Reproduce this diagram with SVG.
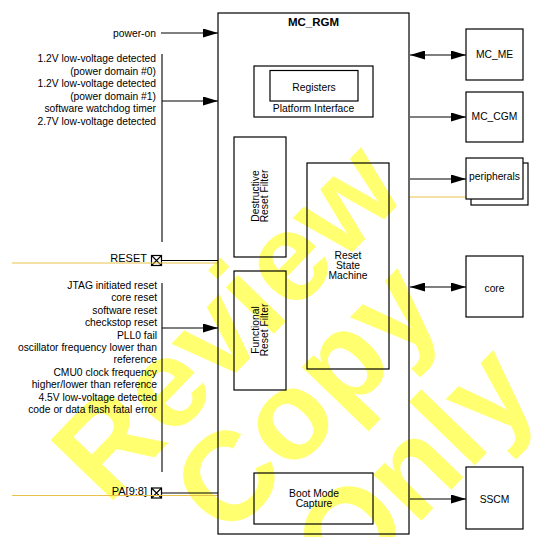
<svg xmlns="http://www.w3.org/2000/svg" width="550" height="537" viewBox="0 0 550 537">
<style>
  .t { font-family: "Liberation Sans", Arial, sans-serif; font-size: 10.3px; fill: #000; }
  .r { text-anchor: end; }
  .m { text-anchor: middle; }
  .b { font-weight: bold; font-size: 11.5px; }
  .pin { font-size: 11px; }
  .box { fill: none; stroke: #000; stroke-width: 1.2; }
  .wbox { fill: #fff; stroke: #000; stroke-width: 1.2; }
  .ln { fill: none; stroke: #000; stroke-width: 1.1; }
  .ar { fill: none; stroke: #000; stroke-width: 1.1; marker-end: url(#ah); }
  .ar2 { fill: none; stroke: #000; stroke-width: 1.1; marker-end: url(#ah); marker-start: url(#ah); }
  .yl { fill: none; stroke: #e8c34a; stroke-width: 1; }
  .wm { font-family: "Liberation Sans", Arial, sans-serif; font-weight: bold; font-size: 126px; fill: #ffff70; text-anchor: middle; }
</style>
<defs>
  <marker id="ah" markerUnits="userSpaceOnUse" markerWidth="15" markerHeight="9" refX="15" refY="4.5" orient="auto-start-reverse">
    <path d="M0,0 L15,4.5 L0,9 z" fill="#000"/>
  </marker>
</defs>
<rect width="550" height="537" fill="#fff"/>

<g id="watermark" transform="translate(258,350) rotate(-46)">
  <text class="wm" x="0" y="0">Review</text>
  <text class="wm" x="-1" y="110">Copy</text>
  <text class="wm" x="24" y="236">Only</text>
</g>

<g id="inputs-left">
  <text class="t r" x="156" y="37">power-on</text>
  <text class="t r" x="156" y="62">1.2V low-voltage detected</text>
  <text class="t r" x="156" y="74.5">(power domain #0)</text>
  <text class="t r" x="156" y="87">1.2V low-voltage detected</text>
  <text class="t r" x="156" y="99.5">(power domain #1)</text>
  <text class="t r" x="156" y="112">software watchdog timer</text>
  <text class="t r" x="156" y="124.5">2.7V low-voltage detected</text>
  <text class="t r" x="157" y="289">JTAG initiated reset</text>
  <text class="t r" x="157" y="301.4">core reset</text>
  <text class="t r" x="157" y="313.8">software reset</text>
  <text class="t r" x="157" y="326.2">checkstop reset</text>
  <text class="t r" x="157" y="338.6">PLL0 fail</text>
  <text class="t r" x="157" y="351">oscillator frequency lower than</text>
  <text class="t r" x="157" y="363.4">reference</text>
  <text class="t r" x="157" y="375.8">CMU0 clock frequency</text>
  <text class="t r" x="157" y="388.2">higher/lower than reference</text>
  <text class="t r" x="157" y="400.6">4.5V low-voltage detected</text>
  <text class="t r" x="157" y="413">code or data flash fatal error</text>
</g>

<g id="pin-reset">
  <text class="t r pin" x="147" y="262">RESET</text>
  <rect class="box" x="151.5" y="255.5" width="10" height="10" stroke-width="1"/>
  <path class="ln" d="M151.5,255.5 L161.5,265.5 M161.5,255.5 L151.5,265.5" stroke-width="0.8"/>
</g>
<g id="pin-pa">
  <text class="t r pin" x="147" y="495">PA[9:8]</text>
  <rect class="box" x="151.5" y="488" width="10" height="10" stroke-width="1"/>
  <path class="ln" d="M151.5,488 L161.5,498 M161.5,488 L151.5,498" stroke-width="0.8"/>
</g>

<g id="connectors">
  <path class="yl" d="M12,263 H218"/>
  <path class="yl" d="M12,495.5 H218"/>
  <path class="yl" d="M409,197 H466"/>
  <path class="ar" d="M161,33 H218"/>
  <path class="ln" d="M162,54 V242"/>
  <path class="ar" d="M162,101 H218"/>
  <path class="ln" d="M162,283 V472"/>
  <path class="ar" d="M162,328 H218"/>
  <path class="ln" d="M161.5,260.5 H218"/>
  <path class="ln" d="M161.5,493 H218"/>
  <path class="ar2" d="M410,55 H466"/>
  <path class="ar" d="M410,117 H466"/>
  <path class="ar" d="M410,179 H466"/>
  <path class="ar2" d="M410,287 H466"/>
  <path class="ar" d="M410,499 H466"/>
</g>

<g id="mc_rgm">
  <rect class="box" x="218" y="13" width="191" height="521" stroke-width="1.4"/>
  <text class="t b m" x="313.5" y="26">MC_RGM</text>
</g>
<g id="platform-interface">
  <rect class="box" x="254" y="66" width="119" height="51"/>
  <text class="t m" x="313.5" y="112">Platform Interface</text>
</g>
<g id="registers">
  <rect class="box" x="270" y="70.5" width="88" height="30.5"/>
  <text class="t m" x="314" y="91">Registers</text>
</g>
<g id="destructive-reset-filter">
  <rect class="box" x="234" y="137" width="52" height="120"/>
  <text class="t m" transform="translate(259,196) rotate(-90)">Destructive</text>
  <text class="t m" transform="translate(268,196) rotate(-90)">Reset Filter</text>
</g>
<g id="functional-reset-filter">
  <rect class="box" x="234" y="271" width="52" height="119"/>
  <text class="t m" transform="translate(259,330) rotate(-90)">Functional</text>
  <text class="t m" transform="translate(268,330) rotate(-90)">Reset Filter</text>
</g>
<g id="reset-state-machine">
  <rect class="box" x="307" y="163" width="82" height="206"/>
  <text class="t m" x="348" y="259">Reset</text>
  <text class="t m" x="348" y="269">State</text>
  <text class="t m" x="348" y="279">Machine</text>
</g>
<g id="boot-mode-capture">
  <rect class="box" x="254" y="473" width="119" height="51"/>
  <text class="t m" x="314" y="497">Boot Mode</text>
  <text class="t m" x="314" y="507">Capture</text>
</g>

<g id="mc_me">
  <rect class="box" x="466" y="29" width="57" height="51"/>
  <text class="t m" x="494.5" y="57.5">MC_ME</text>
</g>
<g id="mc_cgm">
  <rect class="box" x="466" y="92" width="57" height="50"/>
  <text class="t m" x="494.5" y="119.5">MC_CGM</text>
</g>
<g id="peripherals">
  <rect class="wbox" x="471" y="163" width="57" height="42"/>
  <rect class="wbox" x="466" y="158" width="57" height="41"/>
  <text class="t m" x="494.5" y="179.5">peripherals</text>
</g>
<g id="core">
  <rect class="box" x="466" y="256" width="57" height="61"/>
  <text class="t m" x="494.5" y="291.5">core</text>
</g>
<g id="sscm">
  <rect class="box" x="466" y="467" width="57" height="62"/>
  <text class="t m" x="494.5" y="502.5">SSCM</text>
</g>
</svg>
